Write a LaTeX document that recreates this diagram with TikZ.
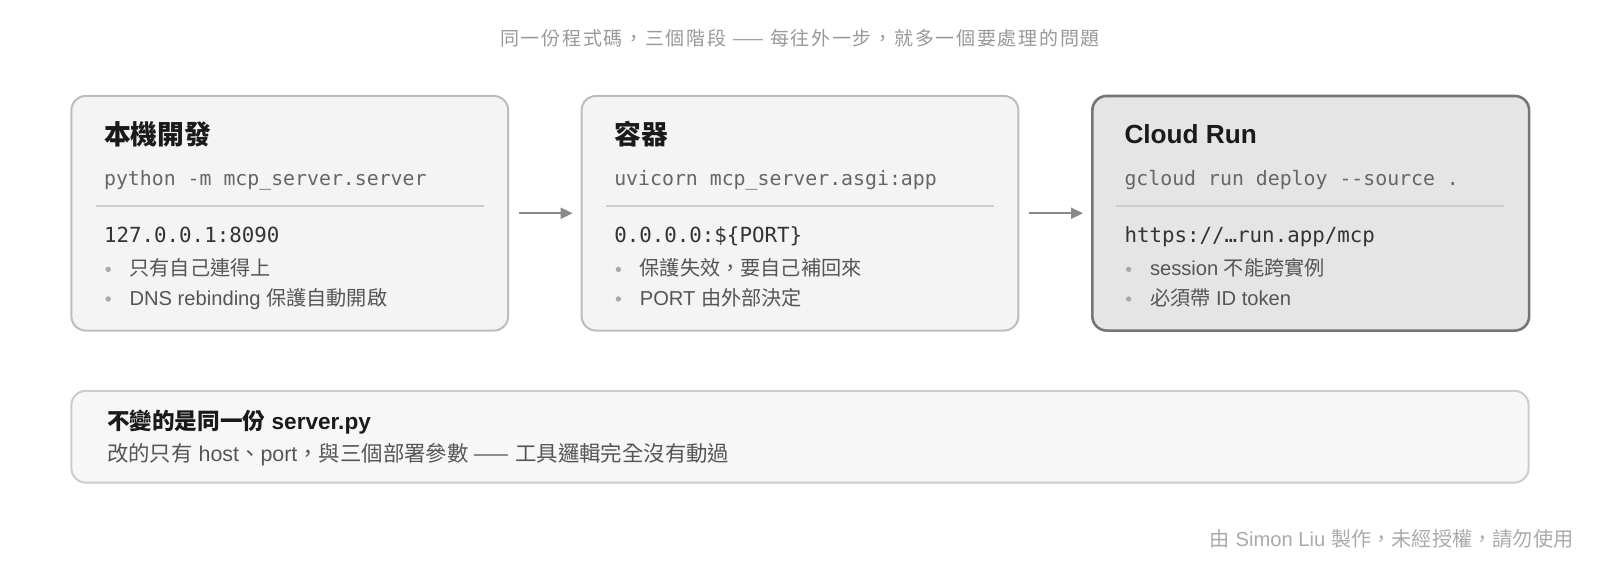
\documentclass[tikz,border=0pt]{standalone}
\usepackage{fontspec}
\setmainfont{Liberation Sans}
\setmonofont{DejaVu Sans Mono}
\newfontfamily\cjk{Noto Sans CJK TC}
\newfontfamily\cjkspaced{Noto Sans CJK TC}[LetterSpace=9]
\usetikzlibrary{arrows.meta}
\definecolor{boxfill}{HTML}{F4F4F4}
\definecolor{boxline}{HTML}{BDBDBD}
\definecolor{hifill}{HTML}{E5E5E5}
\definecolor{hiline}{HTML}{757575}
\definecolor{divcol}{HTML}{CCCCCC}
\definecolor{arrcol}{HTML}{8A8A8A}
\definecolor{titlecol}{HTML}{1A1A1A}
\definecolor{cmdcol}{HTML}{666666}
\definecolor{hostcol}{HTML}{333333}
\definecolor{bulcol}{HTML}{555555}
\definecolor{dotcol}{HTML}{AAAAAA}
\definecolor{capcol}{HTML}{999999}
\definecolor{notefill}{HTML}{F7F7F7}
\definecolor{noteline}{HTML}{CCCCCC}
\begin{document}
\begin{tikzpicture}[x=0.5102pt,y=-0.5102pt,
  txt/.style={anchor=base west, inner sep=0pt, outer sep=0pt},
  stage/.style={draw=boxline, fill=boxfill, line width=1pt, rounded corners=7.2pt,
    minimum width=218.4pt, minimum height=117.3pt, inner sep=0pt},
  stagehi/.style={stage, draw=hiline, fill=hifill, line width=1.3pt},
  note/.style={draw=noteline, fill=notefill, line width=1pt, rounded corners=7.2pt,
    minimum width=728.6pt, minimum height=45.9pt, inner sep=0pt},
  divider/.style={draw=divcol, line width=0.8pt},
  flow/.style={draw=arrcol, line width=1pt, -{Triangle[length=6pt,width=5.5pt]},
    shorten <=5pt, shorten >=4pt},
  ttl/.style={txt, text=titlecol, font=\fontsize{13.1}{15}\selectfont\bfseries},
  cjkttl/.style={txt, text=titlecol, font=\cjk\fontsize{13.4}{15}\selectfont\bfseries},
  cmd/.style={txt, text=cmdcol, font=\ttfamily\fontsize{9.92}{12}\selectfont},
  host/.style={txt, text=hostcol, font=\ttfamily\fontsize{10.4}{12}\selectfont},
  bul/.style={txt, text=bulcol, font=\fontsize{10.08}{12}\selectfont},
  dot/.style={circle, fill=dotcol, inner sep=0pt, minimum size=2.7pt},
]
\useasboundingbox[fill=white] (0,0) rectangle (1568,553.73);

% caption
\node[txt, anchor=base, text=capcol, font=\cjkspaced\fontsize{9.5}{11}\selectfont] (cap) at (784,45)
  {同一份程式碼，三個階段 —— 每往外一步，就多一個要處理的問題};

% stage boxes
\node[stage] (s1) at (284,209) {};
\node[stage] (s2) at (784,209) {};
\node[stagehi] (s3) at (1284.5,209) {};

\draw[flow] (s1.east) -- (s2.west);
\draw[flow] (s2.east) -- (s3.west);

% stage 1
\node[cjkttl] (t1) at (102,142) {本機開發};
\node[cmd] (c1) at (102,182) {python -m mcp\_server.server};
\draw[divider] (94,202) -- (474,202);
\node[host] (h1) at (102,238) {127.0.0.1:8090};
\node[dot] (d11) at (106,264) {};
\node[bul] (b11) at (127,270) {\cjk 只有自己連得上};
\node[dot] (d12) at (106,293) {};
\node[bul] (b12) at (127,299) {DNS rebinding {\cjk 保護自動開啟}};

% stage 2
\node[cjkttl] (t2) at (602,142) {容器};
\node[cmd] (c2) at (602,182) {uvicorn mcp\_server.asgi:app};
\draw[divider] (594,202) -- (974,202);
\node[host] (h2) at (602,238) {0.0.0.0:\$\{PORT\}};
\node[dot] (d21) at (606,264) {};
\node[bul] (b21) at (627,270) {\cjk 保護失效，要自己補回來};
\node[dot] (d22) at (606,293) {};
\node[bul] (b22) at (627,299) {PORT {\cjk 由外部決定}};

% stage 3
\node[ttl] (t3) at (1102,141) {Cloud Run};
\node[cmd] (c3) at (1102,182) {gcloud run deploy --source .};
\draw[divider] (1094,202) -- (1474,202);
\node[host] (h3) at (1102,238) {https://…run.app/mcp};
\node[dot] (d31) at (1106,264) {};
\node[bul] (b31) at (1127,270) {session {\cjk 不能跨實例}};
\node[dot] (d32) at (1106,293) {};
\node[bul] (b32) at (1127,299) {{\cjk 必須帶} ID token};

% bottom note
\node[note] (n) at (784,428) {};
\node[txt, text=titlecol, font=\fontsize{11.3}{13}\selectfont\bfseries] (n1) at (105,421)
  {{\cjk\bfseries 不變的是同一份} server.py};
\node[txt, text=bulcol, font=\fontsize{10.7}{12}\selectfont] (n2) at (105,452)
  {{\cjk 改的只有} host{\cjk 、}port{\cjk ，與三個部署參數 ——} {\cjk 工具邏輯完全沒有動過}};

% footer
\node[txt, anchor=base east, text=dotcol, font=\fontsize{10.1}{11}\selectfont] (ft) at (1542,536)
  {{\cjk 由} Simon Liu {\cjk 製作，未經授權，請勿使用}};
\end{tikzpicture}
\end{document}
